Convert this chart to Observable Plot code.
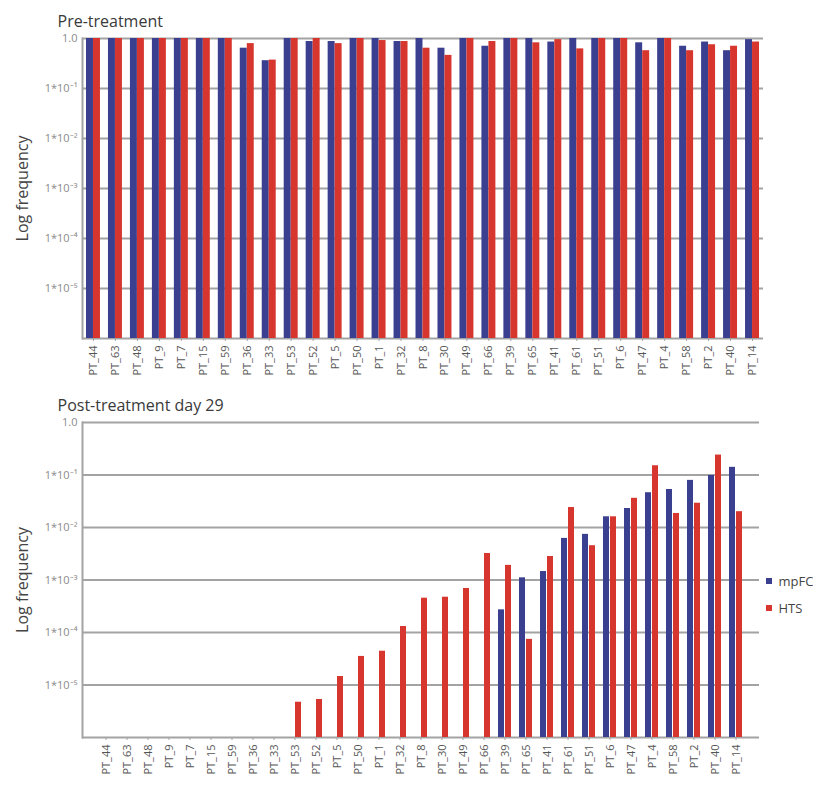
<!DOCTYPE html>
<html>
<head>
<meta charset="utf-8">
<script src="https://cdn.jsdelivr.net/npm/d3@7"></script>
<script src="https://cdn.jsdelivr.net/npm/@observablehq/plot@0.6"></script>
<style>
  body { margin: 0; background: #fff; font-family: "Open Sans", sans-serif; }
  #wrap { position: relative; width: 825px; height: 785px; }
  #wrap > * { position: absolute; left: 0; }
  .series-key > div { margin-bottom: 8px; }
</style>
</head>
<body>
<div id="wrap"></div>
<script>
// Patients, in the order shown along the x axis
const categories = ["PT_44","PT_63","PT_48","PT_9","PT_7","PT_15","PT_59","PT_36","PT_33","PT_53",
  "PT_52","PT_5","PT_50","PT_1","PT_32","PT_8","PT_30","PT_49","PT_66","PT_39",
  "PT_65","PT_41","PT_61","PT_51","PT_6","PT_47","PT_4","PT_58","PT_2","PT_40","PT_14"];

const seriesNames = ["mpFC", "HTS"];

// Pre-treatment clone frequencies
const preMpfc = [1, 1, 1, 1, 1, 1, 1, 0.64, 0.36, 1,
  0.87, 0.87, 1, 1, 0.87, 1, 0.64, 1, 0.70, 1,
  1, 0.85, 1, 1, 1, 0.82, 1, 0.70, 0.85, 0.57, 0.95];
const preHts = [1, 1, 1, 1, 1, 1, 1, 0.79, 0.37, 1,
  1, 0.79, 1, 0.91, 0.87, 0.64, 0.46, 1, 0.87, 1,
  0.82, 0.95, 0.62, 1, 1, 0.57, 1, 0.57, 0.75, 0.70, 0.85];

// Post-treatment (day 29) frequencies; null = not detected
const postMpfc = [null, null, null, null, null, null, null, null, null, null,
  null, null, null, null, null, null, null, null, null, 2.7e-4,
  1.1e-3, 1.45e-3, 6.2e-3, 7.4e-3, 1.6e-2, 2.3e-2, 4.6e-2, 5.3e-2, 7.9e-2, 9.8e-2, 0.14];
const postHts = [null, null, null, null, null, null, null, null, null, 4.7e-6,
  5.3e-6, 1.45e-5, 3.5e-5, 4.4e-5, 1.3e-4, 4.5e-4, 4.7e-4, 6.9e-4, 3.2e-3, 1.9e-3,
  7.4e-5, 2.8e-3, 2.4e-2, 4.5e-3, 1.6e-2, 3.6e-2, 0.15, 1.85e-2, 2.9e-2, 0.24, 2.0e-2];

const yTicks = [1, 1e-1, 1e-2, 1e-3, 1e-4, 1e-5];
const yFloor = 1e-6;

const BLUE = "#3b3f8f";
const RED = "#d7362e";
const GRID = "#a3a3a3";
const FONT = "Open Sans, sans-serif";

const sup = {"-": "\u207B", "0": "\u2070", "1": "\u00B9", "2": "\u00B2", "3": "\u00B3",
  "4": "\u2074", "5": "\u2075", "6": "\u2076", "7": "\u2077", "8": "\u2078", "9": "\u2079"};
function fmt(v) {
  if (v === 1) return "1.0";
  const e = String(Math.round(Math.log10(v)));
  return "1*10" + [...e].map(c => sup[c]).join("");
}

function panel({title, mpfc, hts, plotHeight, marginRight, marginBottom}) {
  const rows = categories.map((c, i) => ({cat: c, mpfc: mpfc[i], hts: hts[i]}));
  const marginTop = 38;
  return Plot.plot({
    width: 825,
    height: marginTop + plotHeight + marginBottom,
    marginLeft: 82,
    marginRight,
    marginTop,
    marginBottom,
    style: {fontFamily: FONT, background: "#fff", overflow: "visible"},
    x: {domain: categories, padding: 0, axis: null},
    y: {type: "log", domain: [yFloor, 1], axis: null},
    marks: [
      Plot.ruleY(yTicks, {stroke: GRID, strokeWidth: 2}),
      Plot.ruleY([yFloor], {stroke: GRID, strokeWidth: 2}),
      Plot.frame({anchor: "left", stroke: GRID, strokeWidth: 2}),
      Plot.barY(rows, {x: "cat", y1: yFloor, y2: "mpfc", fill: BLUE, insetLeft: 4, insetRight: 11}),
      Plot.barY(rows, {x: "cat", y1: yFloor, y2: "hts", fill: RED, insetLeft: 11, insetRight: 4}),
      Plot.axisY(yTicks, {tickFormat: fmt, tickSize: 0, tickPadding: 5, fontSize: 11, fill: "#8a8a8a", label: null}),
      Plot.axisX({tickRotate: -90, tickSize: 3, tickPadding: 4, fontSize: 11, fill: "#555", stroke: GRID, label: null}),
      Plot.text(["Log frequency"], {frameAnchor: "left", dx: -60, rotate: -90, fontSize: 16, fill: "#444", textAnchor: "middle"}),
      Plot.text([title], {frameAnchor: "top-left", dx: -25, dy: -12, lineAnchor: "bottom", textAnchor: "start", fontSize: 16, fill: "#3a3a3a"})
    ]
  });
}

const wrap = document.getElementById("wrap");

const topPanel = panel({title: "Pre-treatment", mpfc: preMpfc, hts: preHts, plotHeight: 300, marginRight: 62, marginBottom: 42});
topPanel.style.top = "0px";
wrap.appendChild(topPanel);

const bottomPanel = panel({title: "Post-treatment day 29", mpfc: postMpfc, hts: postHts, plotHeight: 315, marginRight: 66, marginBottom: 46});
bottomPanel.style.top = "384px";
wrap.appendChild(bottomPanel);

const legend = Plot.legend({
  color: {domain: seriesNames, range: [BLUE, RED]},
  legend: "swatches",
  columns: 1,
  swatchSize: 6,
  style: {fontFamily: FONT, fontSize: "13px", color: "#444"}
});
legend.classList.add("series-key");
legend.style.left = "766px";
legend.style.top = "572px";
wrap.appendChild(legend);
</script>
</body>
</html>
